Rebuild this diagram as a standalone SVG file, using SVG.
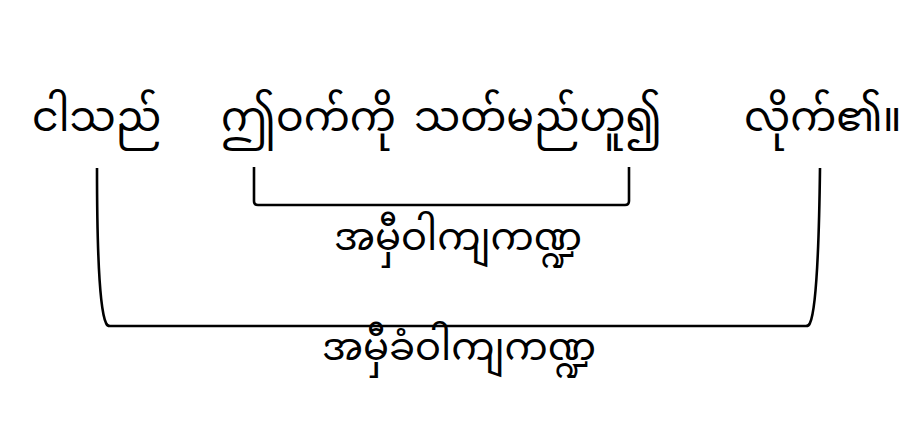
<svg xmlns="http://www.w3.org/2000/svg" width="922" height="423" viewBox="0 0 922 423">
<style>
.t{font-family:"Noto Sans Myanmar","Noto Sans","DejaVu Sans",sans-serif;fill:#000}
.big{font-size:41px}
.lab{font-size:38.5px}
.br{fill:none;stroke:#000;stroke-width:2.6;stroke-linecap:butt;stroke-linejoin:round}
</style>
<rect width="922" height="423" fill="#fff"/>
<g id="words">
<g id="w1"><text class="t big" x="32" y="131">ငါသည်</text></g>
<g id="w2"><text class="t big" x="221" y="131">ဤဝက်ကို</text></g>
<g id="w3"><text class="t big" x="414" y="131">သတ်မည်ဟူ၍</text></g>
<g id="w4"><text class="t big" x="744" y="131">လိုက်၏။</text></g>
</g>
<g id="connectors">
<path class="br" d="M254,167 V201 Q254,205 258,205 H625 Q629,205 629,201 V167"/>
<path class="br" d="M97,168 C97,250 100,310 106,323 Q107,326 110,326 H806 Q809,326 810,323 C816,310 819,250 820,168"/>
</g>
<g id="label-inner"><text class="t lab" x="458" y="250" text-anchor="middle">အမှီဝါကျကဏ္ဍ</text></g>
<g id="label-outer"><text class="t lab" x="459" y="360" text-anchor="middle">အမှီခံဝါကျကဏ္ဍ</text></g>
</svg>
